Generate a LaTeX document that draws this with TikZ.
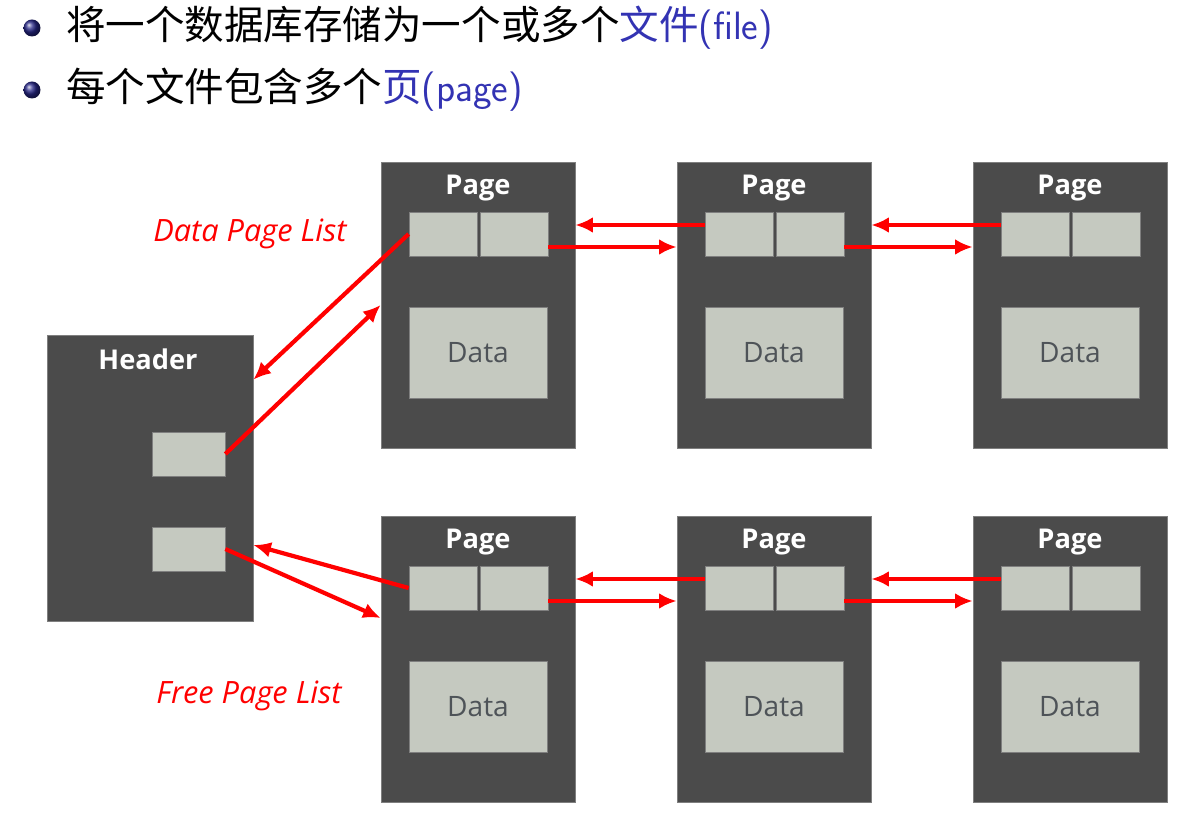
\documentclass[tikz,border=0pt]{standalone}
\usepackage{fontspec}
\setmainfont{Open Sans}
\newfontfamily\cjk{Noto Sans CJK SC}
\usetikzlibrary{arrows.meta,calc}
\definecolor{boxgray}{HTML}{4B4B4B}
\definecolor{slotgray}{HTML}{C5C9C0}
\definecolor{edgegray}{HTML}{7F7F7F}
\definecolor{textgray}{HTML}{4E5358}
\definecolor{itemblue}{HTML}{3333B3}
\tikzset{
 pagebox/.style={fill=boxgray, draw=edgegray, line width=0.4pt, minimum width=3.88cm, minimum height=5.72cm, inner sep=0pt},
 slot/.style={fill=slotgray, draw=edgegray, line width=0.4pt, minimum width=1.36cm, minimum height=0.88cm, inner sep=0pt},
 databox/.style={slot, minimum width=2.76cm, minimum height=1.82cm, text=textgray, font=\fontsize{16}{18}\selectfont},
 title/.style={text=white, font=\bfseries\fontsize{15.5}{17}\selectfont},
 link/.style={red, line width=2.4pt, -{Latex[length=10pt,width=9pt]}},
 listname/.style={red, font=\itshape\fontsize{17.5}{20}\selectfont},
 bullet/.style={ball color=itemblue!75!black}
}
\begin{document}
\begin{tikzpicture}[x=0.02cm,y=-0.02cm]
\useasboundingbox (0,0) rectangle (1177,813);
% bullet items
\foreach \y in {28,90}{
\shade[bullet] (32,\y) circle (8.5);}
\node[anchor=west, font=\cjk\fontsize{22.5}{27}\selectfont] (item1) at (60,28) {将一个数据库存储为一个或多个\textcolor{itemblue}{文件\sffamily(file)}};
\node[anchor=west, font=\cjk\fontsize{22.5}{27}\selectfont] (item2) at (60,90) {每个文件包含多个\textcolor{itemblue}{页\sffamily(page)}};
% header
\node[pagebox, minimum width=4.12cm] (hd) at (150,478) {};
\node[title] (hdt) at (148,359) {Header};
\node[slot, minimum width=1.46cm] (hs1) at (188.5,454) {};
\node[slot, minimum width=1.46cm] (hs2) at (188.5,549) {};
% pages
\foreach \row/\y in {d/305,f/659}{
\foreach \n/\x in {1/478,2/774,3/1070}{
\node[pagebox] (p\row\n) at (\x,\y) {};
\node[title] (p\row\n t) at (\x,\y-117) {Page};
\node[slot] (p\row\n l) at (\x-35,\y-71) {};
\node[slot] (p\row\n r) at (\x+36,\y-71) {};
\node[databox] (p\row\n d) at (\x,\y+47.5) {Data};}
\foreach \a/\b in {1/2,2/3}{
\draw[link] ($(p\row\b l.west)+(0,-9)$) -- ($(p\row\a.east |- p\row\b l.west)+(0,-9)$);
\draw[link] ($(p\row\a r.east)+(0,13)$) -- ($(p\row\b.west |- p\row\a r.east)+(0,13)$);}
}
% list links
\draw[link] (pd1l.west) -- ($(hd.north east)+(0,45)$);
\draw[link] (hs1.east) -- (pd1.west);
\draw[link] (pf1l.west) -- ($(hs2.east -| hd.east)+(0,-4)$);
\draw[link] (hs2.east) -- ($(pf1.west)+(0,-41)$);
\node[listname] (dlist) at (250,234) {Data Page List};
\node[listname] (flist) at (249,696) {Free Page List};
\end{tikzpicture}
\end{document}
